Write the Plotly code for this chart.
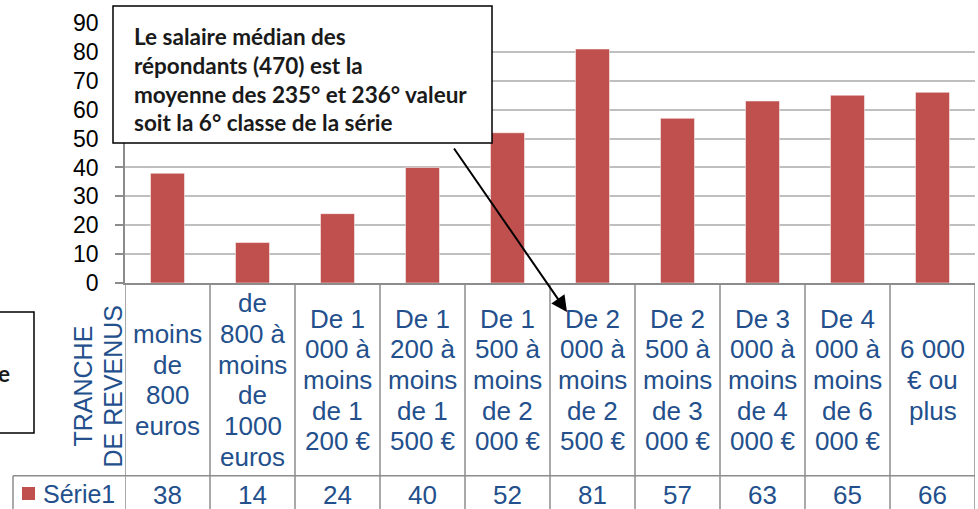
import plotly.graph_objects as go

# ---- data ----
categories = [
    "moins\nde\n800\neuros",
    "de\n800 à\nmoins\nde\n1000\neuros",
    "De 1\n000 à\nmoins\nde 1\n200 €",
    "De 1\n200 à\nmoins\nde 1\n500 €",
    "De 1\n500 à\nmoins\nde 2\n000 €",
    "De 2\n000 à\nmoins\nde 2\n500 €",
    "De 2\n500 à\nmoins\nde 3\n000 €",
    "De 3\n000 à\nmoins\nde 4\n000 €",
    "De 4\n000 à\nmoins\nde 6\n000 €",
    "6 000\n€ ou\nplus",
]
values = [38, 14, 24, 40, 52, 81, 57, 63, 65, 66]
series_name = "Série1"
axis_title = "TRANCHE\nDE REVENUS"
y_ticks = [0, 10, 20, 30, 40, 50, 60, 70, 80, 90]
note_text = "Le salaire médian des\nrépondants (470) est la\nmoyenne des 235° et 236° valeur\nsoit la 6° classe de la série"

# ---- geometry helpers (pixel -> paper) ----
W, H = 978, 509
L, R, T, B = 125, 3, 23, 226
PW, PH = W - L - R, H - T - B


def xp(px):
    return (px - L) / PW


def yp(py):
    return (H - B - py) / PH


BAR = "#C0504D"
TXT = "#23508C"
GRID = "#BFBFBF"
LINE = "#8C8C8C"
FONT = "Liberation Sans"
TSIZE = 26
NOTE_FONT = dict(family="Lato", size=22.5, color="#1a1a1a", weight="bold")

idx = list(range(len(values)))

fig = go.Figure()
fig.add_trace(go.Bar(
    x=idx, y=values, width=0.4, name=series_name,
    marker=dict(color=BAR, line=dict(color="rgba(255,255,255,0.5)", width=1)),
    showlegend=False, hoverinfo="skip",
))

shapes = []
annotations = []

# table grid
bottom = yp(H + 10)
for k in range(len(values) + 1):
    shapes.append(dict(type="line", xref="x", yref="paper", x0=k - 0.5, x1=k - 0.5,
                       y0=0, y1=bottom, line=dict(color=LINE, width=1.5)))
row_sep = yp(475.7)
shapes.append(dict(type="line", xref="paper", yref="paper", x0=xp(13), x1=1.0,
                   y0=row_sep, y1=row_sep, line=dict(color=LINE, width=1.5)))
shapes.append(dict(type="line", xref="paper", yref="paper", x0=xp(13), x1=xp(13),
                   y0=row_sep, y1=bottom, line=dict(color=LINE, width=1.5)))

# category labels (line by line)
SP = 30.7
for i, lab in enumerate(categories):
    lines = lab.split("\n")
    n = len(lines)
    for j, ln in enumerate(lines):
        py = 380 + (j - (n - 1) / 2) * SP
        annotations.append(dict(x=i, xref="x", y=yp(py), yref="paper", text=ln,
                                showarrow=False, xanchor="center", yanchor="middle",
                                font=dict(family=FONT, size=TSIZE, color=TXT)))

# data row values
for i, v in enumerate(values):
    annotations.append(dict(x=i, xref="x", y=yp(495), yref="paper", text=str(v),
                            showarrow=False, xanchor="center", yanchor="middle",
                            font=dict(family=FONT, size=TSIZE, color=TXT)))

# legend key in data row
shapes.append(dict(type="rect", xref="paper", yref="paper", x0=xp(22), x1=xp(35),
                   y0=yp(500), y1=yp(487), fillcolor=BAR, line=dict(width=0)))
annotations.append(dict(x=xp(41), xref="paper", y=yp(494), yref="paper", text=series_name,
                        showarrow=False, xanchor="left", yanchor="middle",
                        font=dict(family=FONT, size=25, color=TXT)))

# axis title, rotated
for j, ln in enumerate(axis_title.split("\n")):
    annotations.append(dict(x=xp(82.5 + j * 30), xref="paper", y=yp(386), yref="paper",
                            text=ln, textangle=-90, showarrow=False,
                            xanchor="center", yanchor="middle",
                            font=dict(family=FONT, size=25, color=TXT)))

# note box
shapes.append(dict(type="rect", xref="paper", yref="paper", x0=xp(113), x1=xp(492),
                   y0=yp(143), y1=yp(6), fillcolor="white",
                   line=dict(color="black", width=1.5), layer="above"))
for j, ln in enumerate(note_text.split("\n")):
    annotations.append(dict(x=xp(132), xref="paper", y=yp(36 + j * 29), yref="paper",
                            text=ln, showarrow=False, xanchor="left", yanchor="middle",
                            font=NOTE_FONT))

# arrow
annotations.append(dict(x=xp(567), xref="paper", y=yp(312), yref="paper",
                        ax=453 - 567, ay=147 - 312, axref="pixel", ayref="pixel",
                        text="", showarrow=True, arrowhead=2, arrowsize=1.6,
                        arrowwidth=2, arrowcolor="black"))

# partially visible box on the left
shapes.append(dict(type="rect", xref="paper", yref="paper", x0=xp(-30), x1=xp(34),
                   y0=yp(433), y1=yp(312), fillcolor="white",
                   line=dict(color="black", width=1.5)))
annotations.append(dict(x=xp(12), xref="paper", y=yp(373), yref="paper", text="e",
                        showarrow=False, xanchor="right", yanchor="middle",
                        font=NOTE_FONT))

fig.update_layout(
    width=W, height=H,
    margin=dict(l=L, r=R, t=T, b=B, pad=0),
    plot_bgcolor="white", paper_bgcolor="white",
    shapes=shapes, annotations=annotations,
    bargap=0.6,
    xaxis=dict(range=[-0.5, len(values) - 0.5], showticklabels=False, showgrid=False,
               zeroline=False, showline=True, linecolor=LINE, linewidth=2, ticks=""),
    yaxis=dict(range=[0, 90], tickvals=y_ticks, showgrid=True, gridcolor=GRID, gridwidth=1.5,
               zeroline=False, showline=True, linecolor=LINE, linewidth=1.5,
               ticks="outside", ticklen=8, tickcolor=LINE, tickwidth=1.5,
               ticklabelstandoff=12,
               tickfont=dict(family=FONT, size=23, color="black")),
)

fig.write_html("out.html", config={"displayModeBar": False},
               post_script="document.body.style.margin='0';document.body.style.overflow='hidden';")
